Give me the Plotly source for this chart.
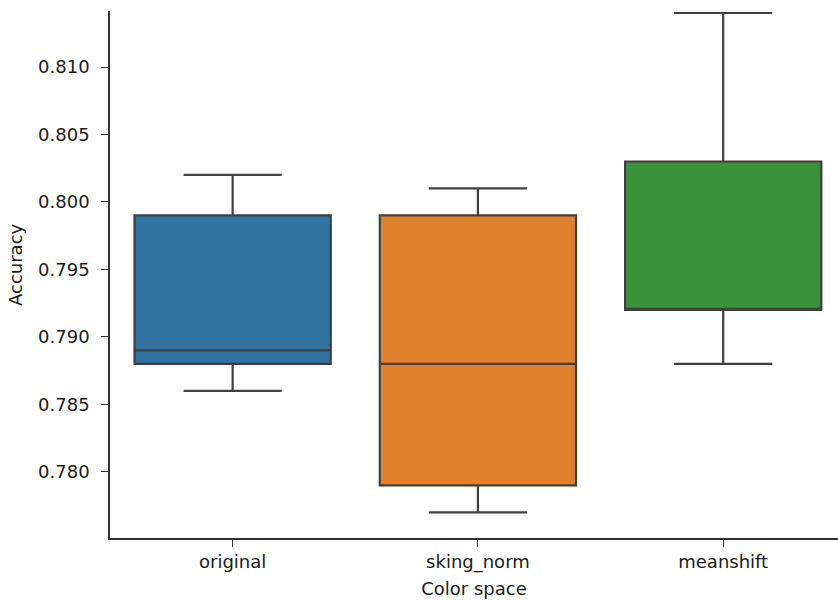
import plotly.graph_objects as go

# Accuracy distribution per colour-space preprocessing
categories = ["original", "sking_norm", "meanshift"]
lower_whisker = [0.786, 0.777, 0.788]
q1 = [0.788, 0.779, 0.792]
median = [0.789, 0.788, 0.792]
q3 = [0.799, 0.799, 0.803]
upper_whisker = [0.802, 0.801, 0.814]
fill_colors = ["#3274a1", "#e1812c", "#3a923a"]
y_ticks = [0.780, 0.785, 0.790, 0.795, 0.800, 0.805, 0.810]

FONT = "DejaVu Sans"
EDGE = "#3f3f3f"

fig = go.Figure()
for i, cat in enumerate(categories):
    fig.add_trace(go.Box(
        x=[cat],
        q1=[q1[i]],
        median=[median[i]],
        q3=[q3[i]],
        lowerfence=[lower_whisker[i]],
        upperfence=[upper_whisker[i]],
        fillcolor=fill_colors[i],
        line=dict(color=EDGE, width=2.2),
        width=0.8,
        whiskerwidth=0.5,
        boxpoints=False,
        showlegend=False,
        name=cat,
    ))

fig.update_layout(
    width=838,
    height=600,
    margin=dict(l=110, r=0, t=11, b=62),
    paper_bgcolor="white",
    plot_bgcolor="white",
    boxmode="overlay",
    font=dict(family=FONT, size=18, color="#1a1a1a"),
    xaxis=dict(
        type="category",
        categoryorder="array",
        categoryarray=categories,
        range=[-0.5, 2.468],
        showline=True,
        linecolor="#333333",
        linewidth=1.5,
        ticks="outside",
        ticklen=7,
        tickwidth=1.4,
        tickcolor="#333333",
        showgrid=False,
        zeroline=False,
        title=dict(text="Color space", font=dict(family=FONT, size=18), standoff=10),
    ),
    yaxis=dict(
        range=[0.7751, 0.81415],
        tickvals=y_ticks,
        tickformat=".3f",
        showline=True,
        linecolor="#333333",
        linewidth=1.5,
        ticks="outside",
        ticklen=7,
        tickwidth=1.4,
        tickcolor="#333333",
        ticklabelstandoff=8,
        showgrid=False,
        zeroline=False,
    ),
    annotations=[dict(
        text="Accuracy",
        textangle=-90,
        xref="paper", yref="paper",
        x=-110 / 728 + 15 / 728, y=(538 - 265) / 527,
        xanchor="center", yanchor="middle",
        showarrow=False,
        font=dict(family=FONT, size=18, color="#1a1a1a"),
    )],
)

fig.write_html("out.html")
